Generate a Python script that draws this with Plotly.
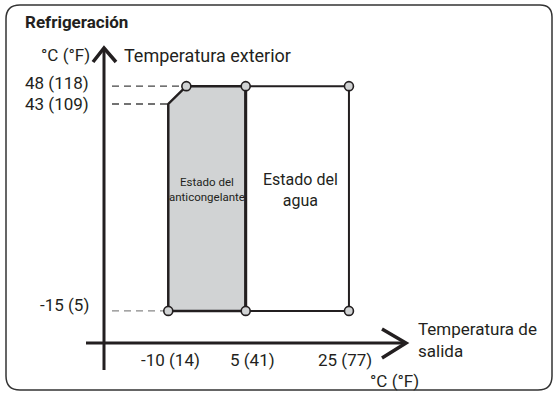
import plotly.graph_objects as go

W, H = 554, 397

# reference values (degrees C), labels carry the F value
x_ticks = [-10, 5, 25]
x_tick_labels = ["-10 (14)", "5 (41)", "25 (77)"]
y_ticks = [48, 43, -15]
y_tick_labels = ["48 (118)", "43 (109)", "-15 (5)"]

# operating zones
antifreeze_x = [-10, -10, -6.5, 5, 5, -10]
antifreeze_y = [-15, 43, 48, 48, -15, -15]
water_x = [5, 25, 25, 5]
water_y = [48, 48, -15, -15]
corner_x = [-6.5, 5, 25, -10, 5, 25]
corner_y = [48, 48, 48, -15, -15, -15]

INK = "#231f20"
FILL = "#d1d3d4"
FONT = "Roboto"

# pixel <-> data mapping of the drawing (not to scale in the original, fit linearly)
X_PX0, X_K = 219.9, 5.162
Y_PX0, Y_K = 257.4, 3.568


def px2x(p):
    return (p - X_PX0) / X_K


def py2y(p):
    return (Y_PX0 - p) / Y_K


def px(p):
    return p / W


def py(p):
    return 1 - p / H


fig = go.Figure()

# dashed guides from the vertical axis
for yv, xend, col in [(48, -6.5, "#444"), (43, -10, "#444"), (-15, -10, "#888")]:
    fig.add_trace(go.Scatter(
        x=[px2x(112), xend], y=[yv, yv], mode="lines",
        line=dict(color=col, width=1.3, dash="7px,5px"), hoverinfo="skip",
    ))

fig.add_trace(go.Scatter(
    x=antifreeze_x, y=antifreeze_y, mode="lines", fill="toself",
    fillcolor=FILL, line=dict(color=INK, width=2.5), hoverinfo="skip",
))
fig.add_trace(go.Scatter(
    x=water_x, y=water_y, mode="lines",
    line=dict(color=INK, width=2), hoverinfo="skip",
))
fig.add_trace(go.Scatter(
    x=[5, 5], y=[48, -15], mode="lines",
    line=dict(color=INK, width=3), hoverinfo="skip",
))
fig.add_trace(go.Scatter(
    x=corner_x, y=corner_y, mode="markers",
    marker=dict(size=9, color=FILL, line=dict(color=INK, width=1.6)),
    hoverinfo="skip",
))

shapes = [
    # frame
    dict(type="path", xref="paper", yref="paper",
         path=f"M {px(20)},{py(5)} L {px(540)},{py(5)} Q {px(552)},{py(5)} {px(552)},{py(17)} "
              f"L {px(552)},{py(376)} Q {px(552)},{py(390)} {px(538)},{py(390)} "
              f"L {px(20)},{py(390)} Q {px(6)},{py(390)} {px(6)},{py(376)} "
              f"L {px(6)},{py(19)} Q {px(6)},{py(5)} {px(20)},{py(5)} Z",
         line=dict(color="#333", width=1.5)),
    # vertical axis + arrow
    dict(type="line", xref="paper", yref="paper", x0=px(104), x1=px(104), y0=py(50), y1=py(370),
         line=dict(color=INK, width=3)),
    dict(type="path", xref="paper", yref="paper",
         path=f"M {px(93)},{py(62)} L {px(104)},{py(48)} L {px(116)},{py(62)}",
         line=dict(color=INK, width=3.5)),
    # horizontal axis + arrow
    dict(type="line", xref="paper", yref="paper", x0=px(86), x1=px(405), y0=py(343), y1=py(343),
         line=dict(color=INK, width=3)),
    dict(type="path", xref="paper", yref="paper",
         path=f"M {px(382)},{py(329)} L {px(406)},{py(343)} L {px(382)},{py(358)}",
         line=dict(color=INK, width=3.5)),
]

ann = []


def text(x, y, s, size=17, xa="left", **kw):
    ann.append(dict(x=x, y=y, xref="paper", yref="paper", text=s, showarrow=False,
                    xanchor=xa, yanchor="middle", align=xa,
                    font=dict(family=FONT, size=size, color=INK), **kw))


text(px(23), py(22), "<b>Refrigeración</b>", size=17)
text(px(92), py(55), "°C (°F)", xa="right")
text(px(122), py(55), "Temperatura exterior", size=18)
text(px(416), py(340), "Temperatura de<br>salida")
text(px(421), py(381), "°C (°F)", xa="right")

for yv, lab, dy in zip(y_ticks, y_tick_labels, [3, 0, 6]):
    ann.append(dict(x=px(91), y=yv, xref="paper", yref="y", text=lab, showarrow=False,
                    xanchor="right", yanchor="middle", yshift=dy,
                    font=dict(family=FONT, size=17, color=INK)))

for xv, lab, dx in zip(x_ticks, x_tick_labels, [2, 7, -4]):
    ann.append(dict(x=xv, y=py(360), xref="x", yref="paper", text=lab, showarrow=False,
                    xanchor="center", yanchor="middle", xshift=dx,
                    font=dict(family=FONT, size=17, color=INK)))

ann.append(dict(x=(antifreeze_x[0] + water_x[0]) / 2, y=py(189), xref="x", yref="paper",
                text="Estado del<br>anticongelante", showarrow=False,
                xanchor="center", yanchor="middle",
                font=dict(family=FONT, size=11.5, color=INK)))
ann.append(dict(x=(water_x[0] + water_x[1]) / 2, y=py(190), xref="x", yref="paper",
                text="Estado del<br>agua", showarrow=False, xshift=3,
                xanchor="center", yanchor="middle",
                font=dict(family=FONT, size=16, color=INK)))

fig.update_layout(
    width=W, height=H, margin=dict(l=0, r=0, t=0, b=0),
    paper_bgcolor="white", plot_bgcolor="white", showlegend=False,
    xaxis=dict(range=[px2x(0), px2x(W)], visible=False, fixedrange=True),
    yaxis=dict(range=[py2y(H), py2y(0)], visible=False, fixedrange=True),
    shapes=shapes, annotations=ann,
)

fig.write_html("out.html", config={"displayModeBar": False},
               post_script="document.body.style.margin = '0';")
